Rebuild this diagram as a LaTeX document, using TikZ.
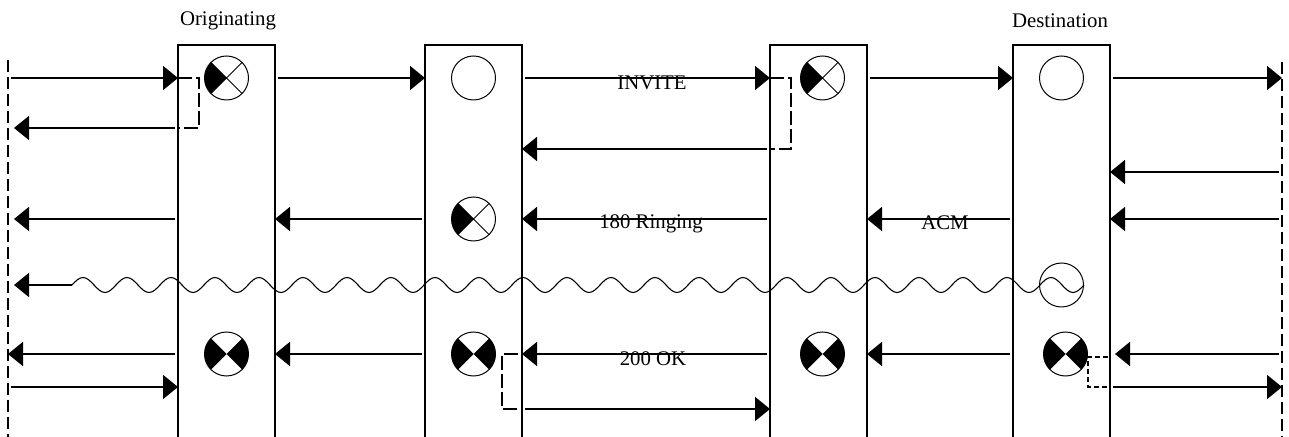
\documentclass[tikz,border=0pt]{standalone}
\usepackage{fontspec}
\setmainfont{Liberation Serif}
\usetikzlibrary{arrows.meta}

\begin{document}
\begin{tikzpicture}[x=0.5pt,y=-0.5pt]
    % Node styles
    \tikzset{
      lane/.style={rectangle,minimum width=48.5pt,minimum height=196pt,inner sep=0pt,outer sep=0pt},
      lane edge/.style={line width=1pt},
      end line/.style={line width=0.7pt,dash pattern=on 6pt off 2.5pt},
      msg/.style={line width=0.8pt,-{Triangle[length=7.5pt,width=12pt]},shorten <=1.5pt},
      hop/.style={line width=0.8pt,dash pattern=on 7pt off 2pt},
      fine hop/.style={line width=0.8pt,dash pattern=on 2.5pt off 1.5pt},
      wave/.style={line width=0.55pt},
      txt/.style={font=\fontsize{10.4}{12}\selectfont,inner sep=0pt},
      state/.style={circle,draw,line width=0.5pt,minimum size=22pt,inner sep=0pt},
      half state/.style={state,path picture={
        \fill (path picture bounding box.center) -- (path picture bounding box.north west)
          -- (path picture bounding box.south west) -- cycle;
        \draw[line width=0.4pt] (path picture bounding box.north west) -- (path picture bounding box.south east)
          (path picture bounding box.north east) -- (path picture bounding box.south west);}},
      busy state/.style={state,path picture={
        \fill (path picture bounding box.center) -- (path picture bounding box.north west)
          -- (path picture bounding box.south west) -- cycle;
        \fill (path picture bounding box.center) -- (path picture bounding box.north east)
          -- (path picture bounding box.south east) -- cycle;}}
    }
    \useasboundingbox (0,0) rectangle (1289,437);

    % --- Switches ---
    \node[lane] (orig) at (226.5,241) {};
    \node[lane] (relayA) at (473.5,241) {};
    \node[lane] (relayB) at (818.5,241) {};
    \node[lane] (dest) at (1061.5,241) {};
    \foreach \s in {orig,relayA,relayB,dest}
      \draw[lane edge] (\s.south west) |- (\s.north east) -- (\s.south east);

    \node[txt] (origName) at (228,21) {Originating};
    \node[txt] (destName) at (1060,21) {Destination};

    % --- Line ends ---
    \coordinate (leftend) at (8,60);
    \coordinate (leftfoot) at (8,437);
    \coordinate (rightend) at (1282,62);
    \coordinate (rightfoot) at (1282,437);
    \draw[end line] (leftend) -- (leftfoot);
    \draw[end line] (rightend) -- (rightfoot);

    % Rows
    \coordinate (r1) at (0,78);
    \coordinate (r2) at (0,128);
    \coordinate (r3) at (0,149);
    \coordinate (r4) at (0,172);
    \coordinate (r5) at (0,219);
    \coordinate (r6) at (0,285);
    \coordinate (r7) at (0,354);
    \coordinate (r8) at (0,387);
    \coordinate (r9) at (0,409);

    % --- Setup ---
    \node[half state] (origSeize) at (orig |- r1) {};
    \node[state] (relayAIdle) at (relayA |- r1) {};
    \node[half state, xshift=2pt] (relayBSeize) at (relayB |- r1) {};
    \node[state] (destIdle) at (dest |- r1) {};

    \draw[msg] (leftend |- r1) -- (orig.west |- r1);
    \draw[msg] (orig.east |- r1) -- (relayA.west |- r1);
    \draw[msg] (relayA.east |- r1) -- (relayB.west |- r1)
      node[txt, midway, xshift=3pt, yshift=-2.5pt] {INVITE};
    \draw[msg] (relayB.east |- r1) -- (dest.west |- r1);
    \draw[msg] (dest.east |- r1) -- (rightend |- r1);

    \draw[hop] (orig.west |- r1) -- ++(21,0) |- (orig.west |- r2);
    \draw[msg, shorten >=3pt] (orig.west |- r2) -- (leftend |- r2);
    \draw[hop] (relayB.west |- r1) -- ++(21,0) |- (relayB.west |- r3);
    \draw[msg] (relayB.west |- r3) -- (relayA.east |- r3);
    \draw[msg] (rightend |- r4) -- (dest.east |- r4);

    % --- Ringing ---
    \node[half state] (relayARing) at (relayA |- r5) {};
    \draw[msg, shorten >=3pt] (orig.west |- r5) -- (leftend |- r5);
    \draw[msg] (relayA.west |- r5) -- (orig.east |- r5);
    \draw[msg] (relayB.west |- r5) -- (relayA.east |- r5)
      node[txt, midway, xshift=2.5pt, yshift=-2.5pt] {180 Ringing};
    \draw[msg] (dest.west |- r5) -- (relayB.east |- r5)
      node[txt, midway, xshift=2.5pt, yshift=-2pt] {ACM};
    \draw[msg] (rightend |- r5) -- (dest.east |- r5);

    % --- Ring tone ---
    \node[state] (destTone) at (dest |- r6) {};
    \coordinate (waveStart) at (72,285);
    \draw[wave] (waveStart)
      \foreach \k in {1,...,23} { sin ++(11,-7.5) cos ++(11,7.5) sin ++(11,7.5) cos ++(11,-7.5) };
    \draw[msg, shorten <=0pt, shorten >=3pt] (waveStart) -- (leftend |- r6);

    % --- Answer ---
    \node[busy state] (origBusy) at (orig |- r7) {};
    \node[busy state] (relayABusy) at (relayA |- r7) {};
    \node[busy state, xshift=2pt] (relayBBusy) at (relayB |- r7) {};
    \node[busy state, xshift=2pt] (destBusy) at (dest |- r7) {};

    \draw[msg] (orig.west |- r7) -- (leftend |- r7);
    \draw[msg] (relayA.west |- r7) -- (orig.east |- r7);
    \draw[msg] (relayB.west |- r7) -- (relayA.east |- r7)
      node[txt, midway, xshift=3.5pt, yshift=-2.5pt] {200 OK};
    \draw[msg] (dest.west |- r7) -- (relayB.east |- r7);
    \draw[msg, shorten >=2.5pt] (rightend |- r7) -- (dest.east |- r7);

    \draw[msg] (leftend |- r8) -- (orig.west |- r8);
    \draw[hop] (relayA.east |- r7) ++(-4,0) -- ++(-16,0) |- (relayA.east |- r9);
    \draw[msg] (relayA.east |- r9) -- (relayB.west |- r9);
    \draw[fine hop] (dest.east |- r7) ++(-2,3) -| (destBusy.east |- r8) -- (dest.east |- r8);
    \draw[msg] (dest.east |- r8) -- (rightend |- r8);
  \end{tikzpicture}
\end{document}
